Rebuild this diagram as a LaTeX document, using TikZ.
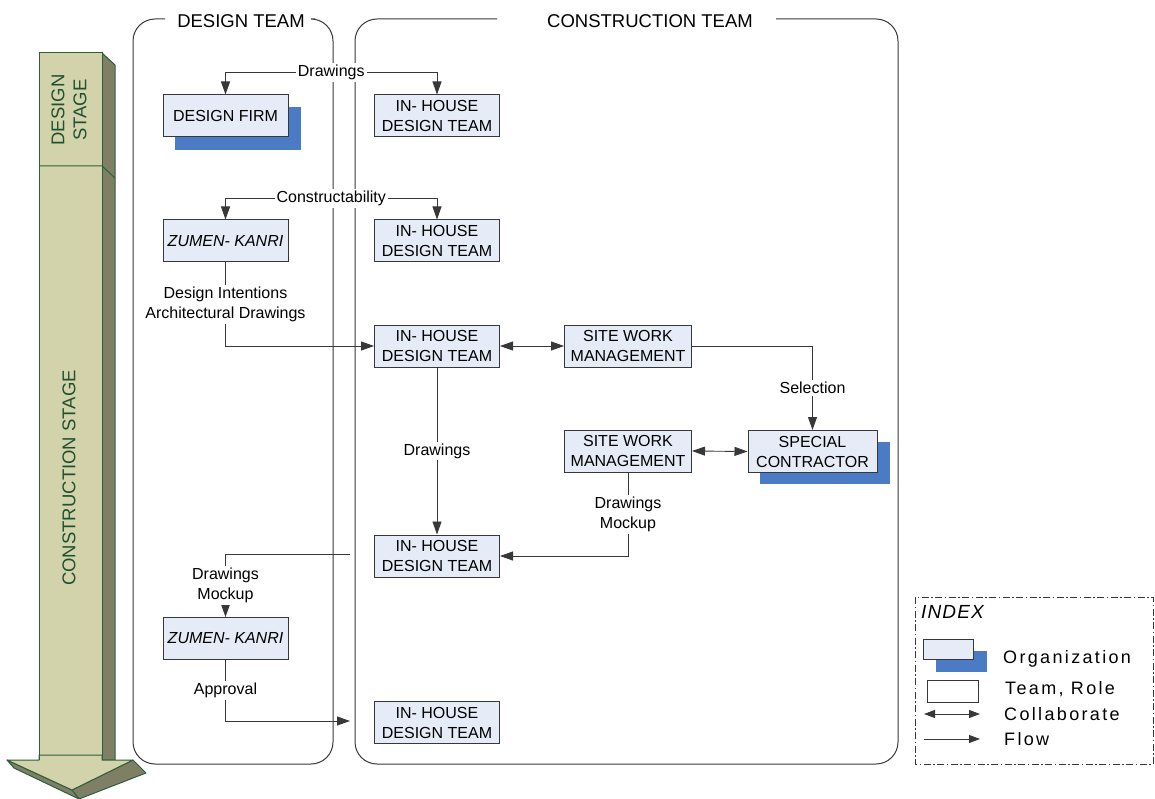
\documentclass[tikz,border=0pt]{standalone}
\usepackage{fontspec}
\setmainfont{Liberation Sans}
\newfontfamily\idxfont{Liberation Sans}[LetterSpace=13]
\newfontfamily\idxhead{Liberation Sans}[LetterSpace=6]
\usetikzlibrary{arrows.meta}
\definecolor{boxfill}{HTML}{E6ECF7}
\definecolor{shadowblue}{HTML}{4A7BC4}
\definecolor{stagefront}{HTML}{D3D3AB}
\definecolor{stageside}{HTML}{7F7F66}
\definecolor{stageedge}{HTML}{2F5F3A}
\definecolor{stagetext}{HTML}{1F5130}
\definecolor{linegrey}{HTML}{383838}
\begin{document}
\begin{tikzpicture}[x=1pt,y=-1pt,
  box/.style={draw=linegrey, line width=1pt, fill=boxfill, minimum width=125pt,
    minimum height=42pt, inner sep=1pt, align=center, font=\fontsize{16}{20}\selectfont},
  lbl/.style={fill=white, inner sep=2pt, align=center, font=\fontsize{16}{20}\selectfont},
  conn/.style={draw=linegrey, line width=0.9pt},
  endarrow/.style={-{Triangle[length=13pt,width=9pt]}},
  twoarrow/.style={{Triangle[length=13pt,width=9pt]}-{Triangle[length=13pt,width=9pt]}},
  panel/.style={draw=linegrey, line width=1pt, rounded corners=22pt},
  ptitle/.style={font=\fontsize{18.5}{22}\selectfont, inner sep=0pt},
  stagetxt/.style={font=\fontsize{18.5}{22}\selectfont, text=stagetext, rotate=90, align=center},
  stageface/.style={draw=stageedge, line width=1pt, line join=round},
  idxtxt/.style={anchor=west, font=\idxfont\fontsize{18}{22}\selectfont, inner sep=0pt}
]
\useasboundingbox (0,0) rectangle (1155,799);

% ---------- stage arrow ----------
\begin{scope}
\clip (0,0) rectangle (1155,799);
\filldraw[stageface, fill=stageside] (102,53) -- (115,65) -- (115,760) -- (102,760) -- cycle;
\filldraw[stageface, fill=stagefront] (39,53) rectangle (102,760);
\filldraw[stageface, fill=stageside] (133,760) -- (146,773) -- (79,799) -- (72,790) -- cycle;
\filldraw[stageface, fill=stageside] (7,760) -- (14,768) -- (79,799) -- (72,790) -- cycle;
\filldraw[stageface, fill=stagefront] (7,760) -- (39,760) -- (39,755) -- (102,755) -- (102,760) -- (133,760) -- (72,790) -- cycle;
\draw[stageface] (39,166) -- (102,166) -- (115,178);
\draw[stageface] (39,760) -- (39,53) -- (102,53) -- (102,760);
\end{scope}
\node[stagetxt] (ds) at (69,110) {DESIGN\\STAGE};
\node[stagetxt] (cs) at (69,478) {CONSTRUCTION STAGE};

% ---------- panels ----------
\draw[panel] (315,19) -- (333,19) -- (333,764) -- (133,764) -- (133,19) -- (165,19);
\node[ptitle] (dt) at (241,21) {DESIGN TEAM};
\draw[panel] (776,19) -- (898,19) -- (898,764) -- (355,764) -- (355,19) -- (497,19);
\node[ptitle] (ct) at (650,21) {CONSTRUCTION TEAM};

% ---------- shadows ----------
\fill[shadowblue] (175,107) rectangle (301,150);
\fill[shadowblue] (760,442) rectangle (890,484);

% ---------- nodes ----------
\node[box] (df)  at (225.5,116) {DESIGN FIRM};
\node[box] (ih1) at (437,116) {IN- HOUSE\\DESIGN TEAM};
\node[box] (zk1) at (225.5,241) {\itshape ZUMEN- KANRI};
\node[box] (ih2) at (437,241) {IN- HOUSE\\DESIGN TEAM};
\node[box] (ih3) at (437,346) {IN- HOUSE\\DESIGN TEAM};
\node[box, minimum width=127pt] (swm1) at (628,346) {SITE WORK\\MANAGEMENT};
\node[box, minimum width=127pt] (swm2) at (628,451) {SITE WORK\\MANAGEMENT};
\node[box, minimum width=129pt] (sc) at (812.5,451.5) {SPECIAL\\CONTRACTOR};
\node[box] (ih4) at (437,556) {IN- HOUSE\\DESIGN TEAM};
\node[box] (zk2) at (225.5,638.5) {\itshape ZUMEN- KANRI};
\node[box] (ih5) at (437,722.5) {IN- HOUSE\\DESIGN TEAM};

\coordinate (c9) at (350,554);
\coordinate (c10) at (350,721);

% ---------- connectors ----------
\draw[conn, twoarrow] (df.north) -- ++(0,-22) -| (ih1.north) node[lbl, pos=0.25] {Drawings};
\draw[conn, twoarrow] (zk1.north) -- ++(0,-21) -| (ih2.north) node[lbl, pos=0.25] {Constructability};
\draw[conn, endarrow] (zk1.south) |- (ih3.west) node[lbl, pos=0.25] {Design Intentions\\Architectural Drawings};
\draw[conn, twoarrow] (ih3.east) -- (swm1.west);
\draw[conn, endarrow] (swm1.east) -| (sc.north) node[lbl, pos=0.75] {Selection};
\draw[conn, twoarrow] (swm2.east) -- (sc.west);
\draw[conn, endarrow] (swm2.south) |- (ih4.east) node[lbl, pos=0.25] {Drawings\\Mockup};
\draw[conn, endarrow] (ih3.south) -- (ih4.north) node[lbl, midway] {Drawings};
\draw[conn, endarrow] (c9) -| (zk2.north) node[lbl, pos=0.75] {Drawings\\Mockup};
\draw[conn, endarrow] (zk2.south) |- (c10) node[lbl, pos=0.25] {Approval};

% ---------- index ----------
\draw[draw=linegrey, line width=0.9pt, dash pattern=on 7pt off 2.5pt on 1.5pt off 2.5pt] (915,597) rectangle (1153,764);
\node[anchor=west, font=\idxhead\itshape\fontsize{19}{22}\selectfont, inner sep=0pt] (idx) at (921,612) {INDEX};
\fill[shadowblue] (936,651) rectangle (987,672);
\node[draw=linegrey, line width=1pt, fill=boxfill, minimum width=50pt, minimum height=20pt, inner sep=0pt] (iorg) at (948,649) {};
\node[draw=linegrey, line width=1pt, fill=white, minimum width=51pt, minimum height=22pt, inner sep=0pt] (iteam) at (952.5,691) {};
\coordinate (ca1) at (924,714);
\coordinate (ca2) at (980,714);
\coordinate (cf1) at (924,739);
\coordinate (cf2) at (980,739);
\draw[conn, {Triangle[length=11pt,width=8pt]}-{Triangle[length=11pt,width=8pt]}] (ca1) -- (ca2);
\draw[conn, -{Triangle[length=11pt,width=8pt]}] (cf1) -- (cf2);
\node[idxtxt] (torg) at (1003,659) {Organization};
\node[idxtxt] (tteam) at (1005,689) {Team, Role};
\node[idxtxt] (tcol) at (1004,714) {Collaborate};
\node[idxtxt] (tflow) at (1004,739) {Flow};
\end{tikzpicture}
\end{document}
